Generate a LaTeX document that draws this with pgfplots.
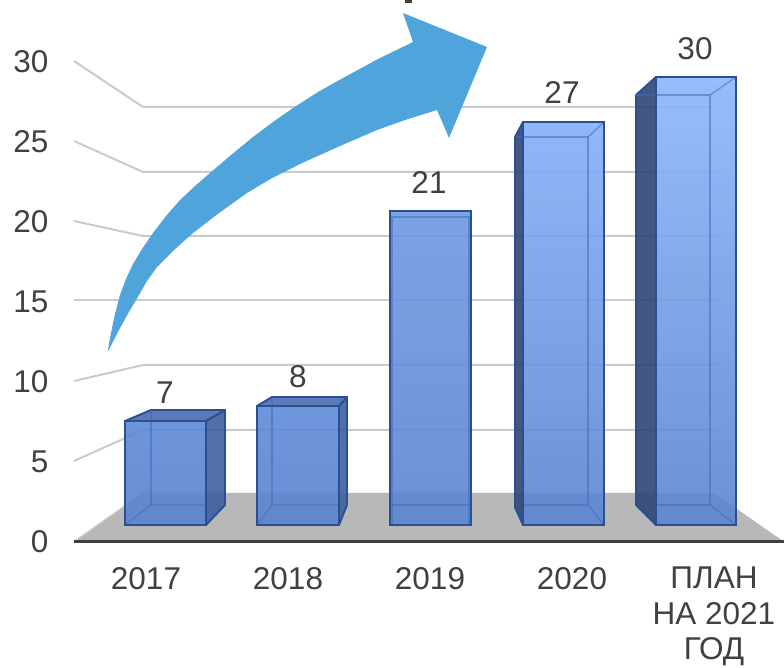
\documentclass[border=0pt]{standalone}
\usepackage{fontspec}
\setmainfont{Liberation Sans}
\usepackage{pgfplots}
\pgfplotsset{compat=1.18}
\definecolor{txt}{HTML}{404040}
\definecolor{grid}{HTML}{CBCBCB}
\definecolor{floorc}{HTML}{B8B8B8}
\definecolor{edge}{HTML}{2A4F92}
\definecolor{inner}{HTML}{3F6CC0}
\definecolor{sideR}{HTML}{3F5F9E}
\definecolor{topc}{HTML}{4A6CAE}
\definecolor{sideL}{HTML}{2E4675}
\definecolor{arrowc}{HTML}{4FA5DB}
\definecolor{botA}{HTML}{5A82CE}
\definecolor{botB}{HTML}{5B84D0}
\definecolor{tA}{HTML}{5E88D6}
\definecolor{tB}{HTML}{5F89D8}
\definecolor{tC}{HTML}{7099E2}
\definecolor{tD}{HTML}{86AFF8}
\definecolor{tE}{HTML}{8DB6FC}
\tikzset{
  face/.style={draw=edge,line width=1.9pt,line join=round,fill opacity=.9},
  back/.style={draw=inner,line width=1.4pt,opacity=.55},
  gl/.style={draw=grid,line width=2pt},
}
\begin{document}
\begin{tikzpicture}
\useasboundingbox (0,0) rectangle (784pt,667pt);
\begin{axis}[
  at={(0,0)},anchor=south west,
  scale only axis,width=784pt,height=667pt,
  xmin=0,xmax=784,ymin=-7.875,ymax=33.8125,
  axis line style={draw=none},
  major tick length=0pt,tick style={draw=none},
  clip=false,
  ytick={0,5,10,15,20,25,30},
  xtick={146,288,430,572,714},
  xticklabels={2017,2018,2019,2020,{ПЛАН\\НА 2021\\ГОД}},
  /pgf/number format/assume math mode=true,
  yticklabel style={anchor=east,xshift=48.5pt,yshift=-0.4pt,inner sep=0pt,text=txt,font=\fontsize{31.5}{35.5}\selectfont},
  xticklabel style={anchor=north,yshift=100pt,inner sep=0pt,align=center,text=txt,font=\fontsize{31.5}{35.5}\selectfont},
]
% floor
\addplot[fill=floorc,draw=none] coordinates {(75,0)(143,3)(714,3)(783,0)} --cycle;
% back wall grid
\addplot[gl] coordinates {(74,5)(143,6.9375)(717,6.9375)};
\addplot[gl] coordinates {(74,10)(143,11)(717,11)};
\addplot[gl] coordinates {(74,15.0625)(717,15.0625)};
\addplot[gl] coordinates {(74,20)(143,19.0625)(717,19.0625)};
\addplot[gl] coordinates {(74,25)(143,23.0625)(717,23.0625)};
\addplot[gl] coordinates {(74,30)(143,27.125)(717,27.125)};
\addplot[draw=grid,line width=1.4pt] coordinates {(75,0)(143,3)};
\addplot[draw=txt,line width=3pt] coordinates {(74,0)(784,0)};
% 2017
\addplot[face,fill=sideR] coordinates {(206,1)(225,2.25)(225,8.1875)(206,7.5)} --cycle;
\addplot[face,fill=topc] coordinates {(125,7.5)(151,8.1875)(225,8.1875)(206,7.5)} --cycle;
\addplot[face,top color=tA,bottom color=botA] coordinates {(125,1)(206,1)(206,7.5)(125,7.5)} --cycle;
\addplot[back] coordinates {(125,1)(151,2.25)(225,2.25)};
\addplot[back] coordinates {(151,2.25)(151,8.1875)};
\addplot[draw=edge,line width=1.9pt] coordinates {(125,1)(206,1)(206,7.5)(125,7.5)} --cycle;
% 2018
\addplot[face,fill=sideR] coordinates {(339,1)(347,2.25)(347,9)(339,8.4375)} --cycle;
\addplot[face,fill=topc] coordinates {(257,8.4375)(272,9)(347,9)(339,8.4375)} --cycle;
\addplot[face,top color=tB,bottom color=botA] coordinates {(257,1)(339,1)(339,8.4375)(257,8.4375)} --cycle;
\addplot[back] coordinates {(257,1)(272,2.25)(347,2.25)};
\addplot[back] coordinates {(272,2.25)(272,9)};
\addplot[draw=edge,line width=1.9pt] coordinates {(257,1)(339,1)(339,8.4375)(257,8.4375)} --cycle;
% 2019
\addplot[face,top color=tC,bottom color=botB] coordinates {(390,1)(471,1)(471,20.625)(390,20.625)} --cycle;
\addplot[back] coordinates {(392,1)(392,20.25)(469,20.25)(469,1)};
\addplot[back] coordinates {(392,2.25)(469,2.25)};
\addplot[draw=edge,line width=1.9pt] coordinates {(390,1)(471,1)(471,20.625)(390,20.625)} --cycle;
% 2020
\addplot[face,fill=sideL] coordinates {(515,25.25)(523,26.1875)(523,1)(515,2.1)} --cycle;
\addplot[face,top color=tD,bottom color=botB] coordinates {(523,1)(604,1)(604,26.1875)(523,26.1875)} --cycle;
\addplot[back] coordinates {(515,25.25)(588,25.25)(588,2.25)(523,2.25)};
\addplot[back] coordinates {(588,25.25)(604,26.1875)};
\addplot[back] coordinates {(588,2.25)(604,1)};
\addplot[draw=edge,line width=1.9pt] coordinates {(523,1)(604,1)(604,26.1875)(523,26.1875)} --cycle;
% plan 2021
\addplot[face,fill=sideL] coordinates {(636,27.875)(656,29)(656,1)(636,2.25)} --cycle;
\addplot[face,top color=tE,bottom color=botB] coordinates {(656,1)(736,1)(736,29)(656,29)} --cycle;
\addplot[back] coordinates {(636,27.875)(710,27.875)(710,2.25)(656,2.25)};
\addplot[back] coordinates {(710,27.875)(736,29)};
\addplot[back] coordinates {(710,2.25)(736,1)};
\addplot[draw=edge,line width=1.9pt] coordinates {(656,1)(736,1)(736,29)(656,29)} --cycle;
% value labels
\node[text=txt,font=\fontsize{31.5}{36}\selectfont] at (axis cs:165,9.3) {7};
\node[text=txt,font=\fontsize{31.5}{36}\selectfont] at (axis cs:298,10.3) {8};
\node[text=txt,font=\fontsize{31.5}{36}\selectfont] at (axis cs:429,22.38) {21};
\node[text=txt,font=\fontsize{31.5}{36}\selectfont] at (axis cs:562,28) {27};
\node[text=txt,font=\fontsize{31.5}{36}\selectfont] at (axis cs:695,30.8) {30};
\end{axis}
\begin{axis}[
  at={(0,0)},anchor=south west,
  scale only axis,width=784pt,height=667pt,
  xmin=0,xmax=784,ymin=0,ymax=667,y dir=reverse,
  hide axis,clip=true,
]
\addplot[fill=arrowc,draw=none] coordinates {
 (107.7,352)(110,338)(114,318)(120,295)(126,279)(133,264)(142,249)(153,233)(166,216)(180,200)(195,186)(210,173)(231,155)(253,137)(273,122)(293,108)(318,92)(343,78)(378,59)(413,42)
 (403,13)(487,47)(449,138)(437,110)
 (408,119)(377,130)(340,146)(300,164)(272,178)(247,193)(219,213)(193,233)(174,250)(157,267)(147,281)(139,295)(130,310)(119,330)} --cycle;
\addplot[fill=txt,draw=none] coordinates {(405,0)(412,0)(412,3)(405,3)} --cycle;
\end{axis}
\end{tikzpicture}
\end{document}
